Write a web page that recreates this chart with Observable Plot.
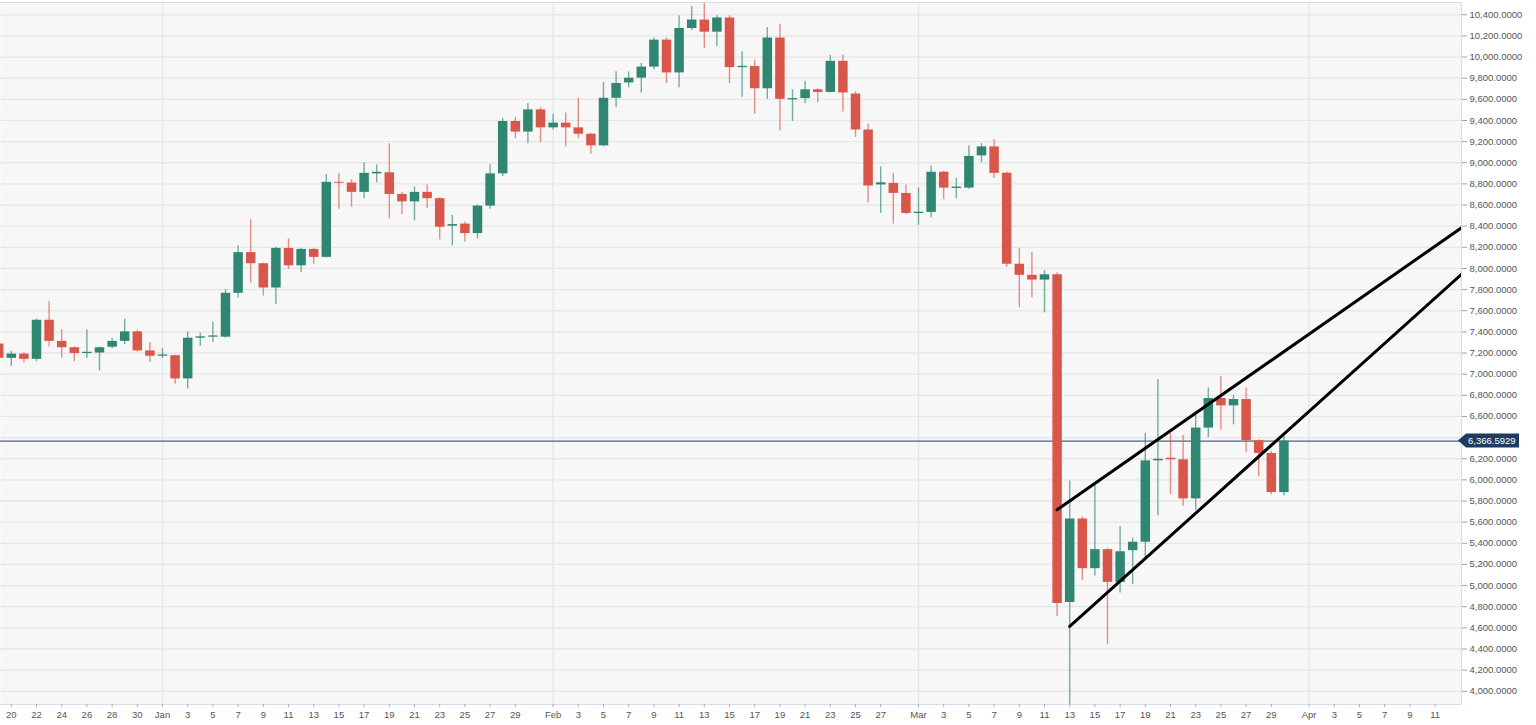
<!DOCTYPE html>
<html>
<head>
<meta charset="utf-8">
<script src="https://cdn.jsdelivr.net/npm/d3@7"></script>
<script src="https://cdn.jsdelivr.net/npm/@observablehq/plot@0.6"></script>
<style>
  html, body { margin: 0; padding: 0; background: #ffffff; }
  #chart svg { display: block; }
</style>
</head>
<body>
<div id="chart"></div>
<script>
// ---- Data (BTC/USD daily) ----
const startDate = "2019-12-19";
const opens = [
  7285, 7150, 7190, 7140, 7510, 7310, 7250, 7195, 7200, 7255, 7310, 7400, 7220,
  7170, 7175, 6955, 7340, 7350, 7350, 7765, 8150, 8045, 7815, 8190, 8025, 8180, 8105, 8815, 8808, 8720, 8895, 8905, 8700, 8630, 8720, 8660, 8400, 8420, 8330, 8590, 8895, 9390, 9290, 9500,
  9330, 9375, 9330, 9270, 9160, 9610, 9755, 9800, 9905, 10160, 9850, 10270, 10350, 10235, 10370, 9900, 9910, 9700, 10180, 9595, 9607, 9690, 9665, 9960, 9650, 9310, 8790, 8805, 8710,
  8520, 8530, 8910, 8757, 8760, 9065, 9150, 8900, 8040, 7935, 7890, 7940, 4840, 5630, 5160, 5340, 5030, 5330, 5410, 6180, 6205, 6190, 5820, 6490, 6770, 6700, 6760, 6370, 6250, 5880
];
const highs = [
  7300, 7215, 7200, 7520, 7690, 7420, 7260, 7420, 7255, 7340, 7520, 7410, 7300,
  7240, 7180, 7400, 7390, 7490, 7800, 8215, 8460, 8050, 8200, 8280, 8190, 8190, 8890, 8900, 8840, 9000, 8980, 9180, 8720, 8770, 8790, 8670, 8500, 8440, 8600, 8980, 9420, 9430, 9560, 9520,
  9460, 9470, 9610, 9280, 9760, 9860, 9860, 9940, 10180, 10180, 10390, 10480, 10510, 10390, 10390, 10050, 9970, 10280, 10310, 9690, 9770, 9700, 10015, 10020, 9670, 9370, 8960, 8900, 8790,
  8760, 8970, 8920, 8850, 9160, 9180, 9220, 8910, 8190, 8150, 7980, 7960, 5990, 5650, 5950, 5350, 5560, 5450, 6440, 6950, 6440, 6420, 6610, 6870, 6980, 6800, 6870, 6380, 6270, 6440
];
const lows = [
  7120, 7075, 7105, 7120, 7260, 7150, 7120, 7150, 7030, 7240, 7280, 7210, 7110,
  7150, 6905, 6860, 7265, 7300, 7340, 7720, 7860, 7740, 7660, 7990, 7960, 8040, 8100, 8560, 8580, 8660, 8810, 8470, 8510, 8450, 8570, 8270, 8215, 8250, 8280, 8560, 8870, 9230, 9180, 9190,
  9310, 9150, 9230, 9080, 9150, 9520, 9710, 9660, 9880, 9750, 9710, 10250, 10080, 10100, 9750, 9620, 9460, 9600, 9300, 9390, 9560, 9570, 9660, 9480, 9240, 8620, 8520, 8420, 8510,
  8410, 8480, 8650, 8660, 8750, 9000, 8850, 8010, 7630, 7720, 7580, 4710, 3850, 5050, 5090, 4440, 4930, 5010, 5260, 5660, 5860, 5750, 5710, 6400, 6470, 6520, 6260, 6030, 5860, 5850
];
const closes = [
  7150, 7190, 7140, 7510, 7310, 7250, 7195, 7207, 7250, 7310, 7400, 7220, 7170,
  7182, 6955, 7340, 7353, 7362, 7765, 8150, 8045, 7815, 8190, 8025, 8180, 8105, 8815, 8806, 8720, 8900, 8910, 8700, 8630, 8720, 8660, 8390, 8415, 8330, 8590, 8895, 9390, 9290, 9500, 9330,
  9375, 9330, 9270, 9160, 9610, 9750, 9800, 9905, 10160, 9850, 10270, 10350, 10235, 10370, 9900, 9912, 9700, 10180, 9600, 9607, 9690, 9665, 9960, 9660, 9310, 8780, 8810, 8710, 8520,
  8532, 8910, 8760, 8770, 9060, 9150, 8900, 8040, 7935, 7890, 7940, 4830, 5630, 5160, 5340, 5030, 5320, 5410, 6180, 6195, 6190, 5820, 6490, 6770, 6700, 6760, 6370, 6250, 5880, 6366.5929
];
const lastPrice = 6366.5929;

// trend channel lines
const upperLine = [
  {date: "2020-03-12T00:00Z", price: 5717},
  {date: "2020-04-13T02:17Z", price: 8385}
];
const lowerLine = [
  {date: "2020-03-13T00:00Z", price: 4613},
  {date: "2020-04-13T02:17Z", price: 7945}
];

// axis ticks
const xTickDates = [
  "2019-12-20","2019-12-22","2019-12-24","2019-12-26","2019-12-28","2019-12-30",
  "2020-01-01","2020-01-03","2020-01-05","2020-01-07","2020-01-09","2020-01-11","2020-01-13","2020-01-15","2020-01-17","2020-01-19","2020-01-21","2020-01-23","2020-01-25","2020-01-27","2020-01-29",
  "2020-02-01","2020-02-03","2020-02-05","2020-02-07","2020-02-09","2020-02-11","2020-02-13","2020-02-15","2020-02-17","2020-02-19","2020-02-21","2020-02-23","2020-02-25","2020-02-27",
  "2020-03-01","2020-03-03","2020-03-05","2020-03-07","2020-03-09","2020-03-11","2020-03-13","2020-03-15","2020-03-17","2020-03-19","2020-03-21","2020-03-23","2020-03-25","2020-03-27","2020-03-29",
  "2020-04-01","2020-04-03","2020-04-05","2020-04-07","2020-04-09","2020-04-11"
];
const monthStarts = ["2020-01-01","2020-02-01","2020-03-01","2020-04-01"];
const monthNames = ["Jan","Feb","Mar","Apr","May","Jun","Jul","Aug","Sep","Oct","Nov","Dec"];
const yTicks = d3.range(4000, 10401, 200);
const xDomain = ["2019-12-19T03:26Z", "2020-04-13T02:17Z"];
const yDomain = [3875, 10516];

// ---- build table ----
const t0 = new Date(startDate + "T00:00Z");
const candles = opens.map((o, i) => ({
  date: new Date(t0.getTime() + i * 86400000),
  open: o, high: highs[i], low: lows[i], close: closes[i]
}));
const trend = [
  ...upperLine.map(d => ({name: "upper", date: new Date(d.date), price: d.price})),
  ...lowerLine.map(d => ({name: "lower", date: new Date(d.date), price: d.price}))
];
const xDom = xDomain.map(s => new Date(s));
const UP = "#2f8671", DOWN = "#d9574a";
const col = d => d.close >= d.open ? UP : DOWN;
const xTickFmt = d => d.getUTCDate() === 1 ? monthNames[d.getUTCMonth()] : String(d.getUTCDate());
// the tick under the price tag is hidden by the tag
const yTickFmt = v => Math.abs(v - lastPrice) < 60 ? "" : d3.format(",.4f")(v);

const plot = Plot.plot({
  width: 1536,
  height: 725,
  marginLeft: 0,
  marginRight: 75,
  marginTop: 2,
  marginBottom: 21,
  style: {fontFamily: "'Liberation Sans', Arial, sans-serif", fontSize: "9.5px", color: "#555", background: "#ffffff", overflow: "visible"},
  x: {type: "utc", domain: xDom},
  y: {domain: yDomain},
  marks: [
    Plot.frame({fill: "#f7f7f7"}),
    Plot.gridY(yTicks, {stroke: "#e6e6e6", strokeOpacity: 1, strokeWidth: 1.3}),
    Plot.gridX(monthStarts.map(s => new Date(s + "T00:00Z")), {stroke: "#e6e6e6", strokeOpacity: 1, strokeWidth: 1.3}),
    // border: top, bottom and right edges
    Plot.ruleY([yDomain[1], yDomain[0]], {stroke: "#d5dcea"}),
    Plot.ruleX([xDom[1]], {stroke: "#d5dcea"}),
    Plot.axisY(yTicks, {anchor: "right", tickFormat: yTickFmt, tickSize: 5, tickPadding: 3, stroke: "#9aa3b0", fill: "#555"}),
    Plot.axisX(xTickDates.map(s => new Date(s + "T00:00Z")), {anchor: "bottom", tickFormat: xTickFmt, tickSize: 3, tickPadding: 4, stroke: "#aaa", fill: "#555"}),
    Plot.ruleY([lastPrice], {stroke: "#4f6482", strokeWidth: 1.2}),
    Plot.ruleX(candles, {x: "date", y1: "low", y2: "high", stroke: col, strokeWidth: 1.4, strokeOpacity: 0.65, clip: true}),
    Plot.ruleX(candles, {x: "date", y1: "open", y2: "close", stroke: col, strokeWidth: 9.5, clip: true}),
    Plot.line(trend, {x: "date", y: "price", z: "name", stroke: "#000", strokeWidth: 3, clip: true})
  ]
});
document.getElementById("chart").appendChild(plot);

// price tag on the right axis, positioned with the plot's y scale
const yS = plot.scale("y");
const yy = yS.apply(lastPrice);
const x0 = 1536 - 75;
const g = d3.select(plot).append("g");
g.append("path")
  .attr("d", `M${x0 - 3},${yy} L${x0 + 5},${yy - 7} L${x0 + 58},${yy - 7} L${x0 + 58},${yy + 7} L${x0 + 5},${yy + 7} Z`)
  .attr("fill", "#1f3b5e");
g.append("text")
  .attr("x", x0 + 7).attr("y", yy).attr("dy", "0.35em")
  .attr("text-anchor", "start")
  .attr("fill", "#ffffff").attr("font-size", "9.5px")
  .text(d3.format(",.4f")(lastPrice));
</script>
</body>
</html>
